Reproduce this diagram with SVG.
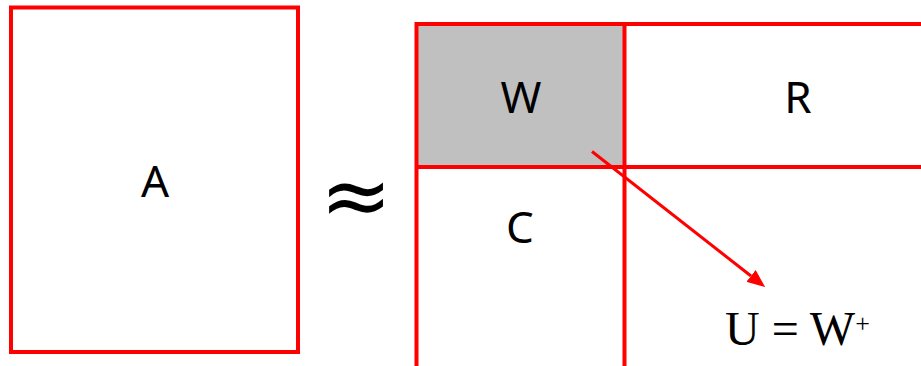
<svg xmlns="http://www.w3.org/2000/svg" width="921" height="366" viewBox="0 0 921 366">
<defs>
<style>
.box{fill:none;stroke:#ff0000;stroke-width:4}
.lbl{font-family:"Noto Sans","Open Sans","DejaVu Sans",sans-serif;font-size:44px;fill:#000;text-anchor:middle}
.math{font-family:"Liberation Serif","Times New Roman",serif;font-size:48px;fill:#000}
</style>
<marker id="ah" markerWidth="6" markerHeight="5" refX="0" refY="2.5" orient="auto" markerUnits="strokeWidth">
<path d="M0,0 L6,2.5 L0,5 Z" fill="#ff0000"/>
</marker>
</defs>
<rect width="921" height="366" fill="#fff"/>
<g id="A">
<rect class="box" x="11" y="7.5" width="287" height="344.5"/>
<text class="lbl" x="155" y="197">A</text>
</g>
<g id="approx">
<text x="356" y="225" font-family="DejaVu Sans,sans-serif" font-size="86" text-anchor="middle" fill="#000">≈</text>
</g>
<g id="W">
<rect x="416.5" y="24" width="208" height="143" fill="#c0c0c0"/>
<text class="lbl" x="521" y="113">W</text>
</g>
<g id="R">
<text class="lbl" x="798" y="113">R</text>
</g>
<g id="C">
<text class="lbl" x="520" y="243">C</text>
</g>
<g id="grid">
<path d="M416.5,366 V24 H921 M416.5,167 H921 M624.5,24 V366" fill="none" stroke="#ff0000" stroke-width="4"/>
</g>
<g id="connectors">
<line x1="592" y1="151.5" x2="751" y2="276" stroke="#ff0000" stroke-width="3" marker-end="url(#ah)"/>
</g>
<g id="U">
<text class="math" x="725" y="345">U = W<tspan font-size="26" dy="-13">+</tspan></text>
</g>
</svg>
